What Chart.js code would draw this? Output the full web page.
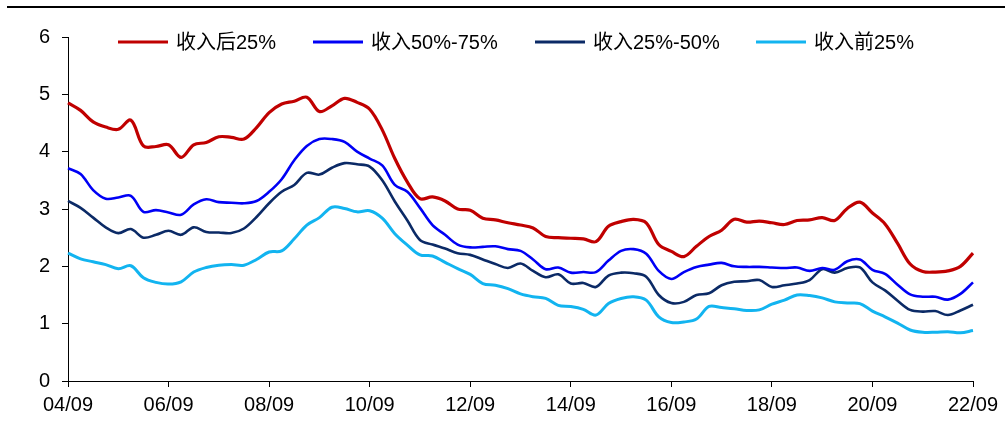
<!DOCTYPE html>
<html>
<head>
<meta charset="utf-8">
<script src="https://cdn.jsdelivr.net/npm/chart.js@4.4.1/dist/chart.umd.min.js"></script>
<style>
  html, body { margin: 0; padding: 0; background: #fff; }
  #wrap { width: 1005px; height: 430px; position: relative; }
</style>
</head>
<body>
<div id="wrap"><canvas id="c"></canvas></div>
<script>
// Quarter-end dates, yy/mm
const quarters = [
  "04/09","04/12",
  "05/03","05/06","05/09","05/12",
  "06/03","06/06","06/09","06/12",
  "07/03","07/06","07/09","07/12",
  "08/03","08/06","08/09","08/12",
  "09/03","09/06","09/09","09/12",
  "10/03","10/06","10/09","10/12",
  "11/03","11/06","11/09","11/12",
  "12/03","12/06","12/09","12/12",
  "13/03","13/06","13/09","13/12",
  "14/03","14/06","14/09","14/12",
  "15/03","15/06","15/09","15/12",
  "16/03","16/06","16/09","16/12",
  "17/03","17/06","17/09","17/12",
  "18/03","18/06","18/09","18/12",
  "19/03","19/06","19/09","19/12",
  "20/03","20/06","20/09","20/12",
  "21/03","21/06","21/09","21/12",
  "22/03","22/06","22/09"
];

// 收入后25%
const incomeBottom25 = [
  4.85, 4.72, 4.52, 4.43, 4.39, 4.55, 4.10, 4.09, 4.12, 3.90,
  4.12, 4.16, 4.26, 4.25, 4.22, 4.42, 4.68, 4.83, 4.88, 4.95,
  4.70, 4.80, 4.93, 4.86, 4.74, 4.38, 3.88, 3.47, 3.18, 3.21,
  3.14, 3.00, 2.98, 2.84, 2.81, 2.76, 2.72, 2.67, 2.52, 2.50,
  2.49, 2.48, 2.43, 2.70, 2.78, 2.82, 2.76, 2.38, 2.26, 2.17,
  2.35, 2.52, 2.63, 2.82, 2.77, 2.79, 2.76, 2.73, 2.80, 2.81,
  2.85, 2.80, 3.01, 3.12, 2.93, 2.74, 2.40, 2.04, 1.91, 1.90,
  1.92, 2.00, 2.23
];

// 收入50%-75%
const income50to75 = [
  3.71, 3.61, 3.33, 3.18, 3.20, 3.23, 2.95, 2.98, 2.94, 2.90,
  3.08, 3.17, 3.12, 3.11, 3.10, 3.14, 3.30, 3.52, 3.85, 4.10,
  4.22, 4.22, 4.17, 4.00, 3.88, 3.76, 3.42, 3.30, 3.02, 2.72,
  2.55, 2.38, 2.33, 2.34, 2.35, 2.30, 2.27, 2.12, 1.95, 1.98,
  1.89, 1.90, 1.90, 2.10, 2.27, 2.30, 2.22, 1.92, 1.78, 1.90,
  1.99, 2.03, 2.06, 2.00, 1.99, 1.99, 1.98, 1.97, 1.98, 1.92,
  1.97, 1.94, 2.09, 2.12, 1.94, 1.87, 1.68, 1.51, 1.47, 1.47,
  1.42, 1.52, 1.72
];

// 收入25%-50%
const income25to50 = [
  3.14, 3.02, 2.85, 2.68, 2.58, 2.65, 2.50, 2.55, 2.62, 2.55,
  2.68, 2.60, 2.59, 2.58, 2.66, 2.86, 3.10, 3.30, 3.42, 3.63,
  3.60, 3.72, 3.80, 3.78, 3.74, 3.50, 3.13, 2.80, 2.46, 2.38,
  2.31, 2.23, 2.20, 2.12, 2.04, 1.97, 2.05, 1.92, 1.81, 1.86,
  1.70, 1.71, 1.64, 1.84, 1.89, 1.88, 1.82, 1.50, 1.36, 1.38,
  1.50, 1.53, 1.67, 1.73, 1.74, 1.76, 1.64, 1.67, 1.70, 1.76,
  1.95, 1.89, 1.97, 1.98, 1.72, 1.58, 1.40, 1.24, 1.21, 1.22,
  1.15, 1.23, 1.33
];

// 收入前25%
const incomeTop25 = [
  2.23, 2.13, 2.08, 2.03, 1.96, 2.01, 1.80, 1.72, 1.69, 1.73,
  1.90, 1.98, 2.02, 2.03, 2.02, 2.12, 2.25, 2.27, 2.48, 2.72,
  2.85, 3.03, 3.01, 2.95, 2.97, 2.84, 2.57, 2.37, 2.20, 2.18,
  2.07, 1.96, 1.86, 1.70, 1.67, 1.61, 1.52, 1.47, 1.44, 1.32,
  1.30, 1.25, 1.15, 1.35, 1.44, 1.47, 1.41, 1.12, 1.02, 1.03,
  1.08, 1.30, 1.28, 1.26, 1.23, 1.24, 1.34, 1.41, 1.50, 1.49,
  1.45, 1.38, 1.36, 1.35, 1.22, 1.12, 1.01, 0.89, 0.85, 0.85,
  0.86, 0.84, 0.88
];

const yTicks = [0, 1, 2, 3, 4, 5, 6];

const FONT = '"Liberation Sans", "Noto Sans CJK SC", Arial, sans-serif';

// Rule across the top of the figure
const topRule = {
  id: 'topRule',
  beforeDraw(chart) {
    const ctx = chart.ctx;
    ctx.save();
    ctx.fillStyle = '#000';
    ctx.fillRect(7, 6, chart.width - 7, 2);
    ctx.restore();
  }
};

// Single-row legend drawn inside the plot, line swatch + label
const lineLegend = {
  id: 'lineLegend',
  afterDraw(chart, args, opts) {
    const ctx = chart.ctx;
    ctx.save();
    ctx.font = '20px ' + FONT;
    ctx.textBaseline = 'middle';
    ctx.textAlign = 'left';
    const y = opts.y;
    chart.data.datasets.forEach((ds, i) => {
      const x = opts.starts[i];
      ctx.strokeStyle = ds.borderColor;
      ctx.lineWidth = 3;
      ctx.beginPath();
      ctx.moveTo(x, y);
      ctx.lineTo(x + opts.swatch, y);
      ctx.stroke();
      ctx.fillStyle = '#000';
      ctx.fillText(ds.label, x + opts.swatch + opts.gap, y + 1);
    });
    ctx.restore();
  }
};

const mk = (label, data, color, width) => ({
  label, data,
  borderColor: color,
  backgroundColor: color,
  borderWidth: width,
  pointRadius: 0,
  pointHoverRadius: 0,
  tension: 0.35,
  fill: false
});

new Chart(document.getElementById('c'), {
  type: 'line',
  data: {
    labels: quarters,
    datasets: [
      mk('收入后25%', incomeBottom25, '#C00000', 3.2),
      mk('收入50%-75%', income50to75, '#0000F5', 2.6),
      mk('收入25%-50%', income25to50, '#0B2A66', 2.6),
      mk('收入前25%', incomeTop25, '#12B4F0', 3)
    ]
  },
  options: {
    responsive: true,
    maintainAspectRatio: false,
    animation: false,
    events: [],
    layout: { padding: { top: 37, right: 32, bottom: 0, left: 0 } },
    plugins: {
      legend: { display: false },
      tooltip: { enabled: false },
      lineLegend: { starts: [118, 313, 535, 756], y: 42, swatch: 50, gap: 8 }
    },
    scales: {
      x: {
        type: 'category',
        offset: false,
        border: { display: true, color: '#000', width: 1 },
        grid: {
          drawOnChartArea: false,
          drawTicks: true,
          tickLength: 6,
          tickColor: c => (c.index % 8 === 0 ? '#000' : 'rgba(0,0,0,0)')
        },
        ticks: {
          autoSkip: false,
          maxRotation: 0,
          minRotation: 0,
          padding: 6,
          color: '#000',
          font: { family: FONT, size: 20 },
          callback: function (v, i) { return i % 8 === 0 ? quarters[i] : ''; }
        },
        afterFit: s => { s.height = 49; }
      },
      y: {
        min: 0,
        max: 6,
        border: { display: true, color: '#000', width: 1 },
        grid: { drawOnChartArea: false, drawTicks: true, tickLength: 6, tickColor: '#000' },
        afterBuildTicks: s => { s.ticks = yTicks.map(v => ({ value: v })); },
        ticks: {
          padding: 12,
          color: '#000',
          font: { family: FONT, size: 20 }
        },
        afterFit: s => { s.width = 68; }
      }
    }
  },
  plugins: [topRule, lineLegend]
});
</script>
</body>
</html>
